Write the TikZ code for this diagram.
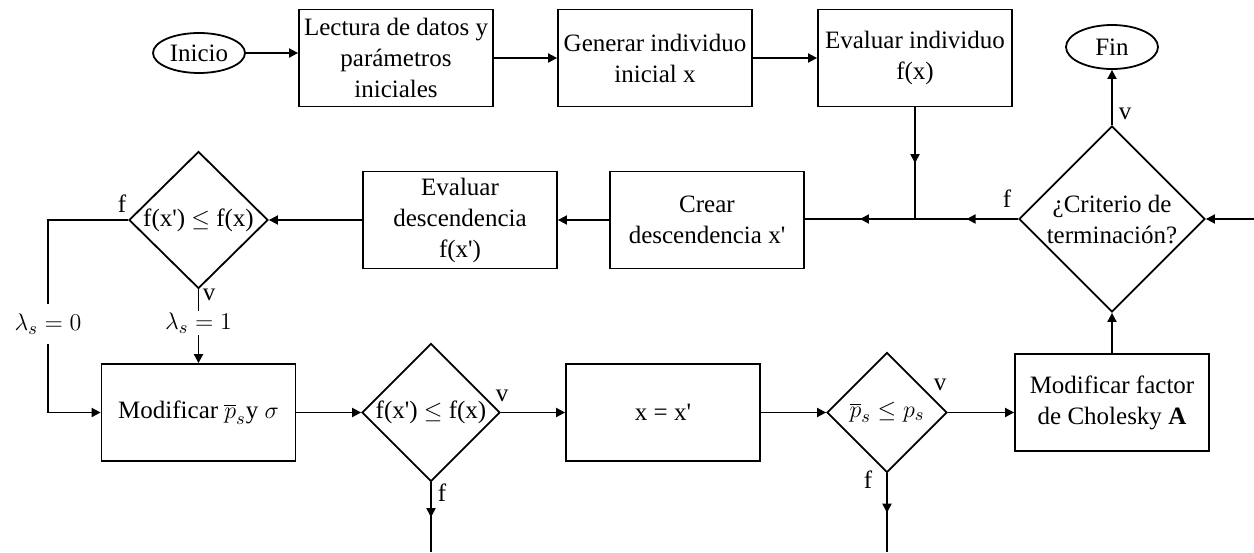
\documentclass[tikz,border=0pt]{standalone}
\usepackage{fontspec}
\setmainfont{Liberation Serif}
\usetikzlibrary{shapes.geometric,arrows.meta,decorations.markings}
\begin{document}
\begin{tikzpicture}[x=0.5pt,y=-0.5pt,
  font=\fontsize{12.5}{15.5}\selectfont,
  line width=0.9pt,
  proc/.style={draw,rectangle,minimum width=97pt,minimum height=48.5pt,align=center,inner sep=2pt},
  term/.style={draw,ellipse,minimum width=46pt,minimum height=20pt,inner sep=0pt},
  decision/.style={draw,diamond,aspect=1,inner sep=0pt,align=center},
  lbl/.style={inner sep=0pt},
  tip/.style={-{Triangle[length=4.5pt,width=4.5pt]}},
  midarrow/.style={decoration={markings,mark=at position 0.5 with {\arrow{Triangle[length=4.5pt,width=4.5pt]}}},postaction={decorate}},
]
\useasboundingbox (0,0) rectangle (1254,552);

% top row
\node[term] (inicio) at (199,53) {Inicio};
\node[proc] (lect) at (396,58) {Lectura de datos y\\parámetros\\iniciales};
\node[proc] (gen) at (655,58) {Generar individuo\\inicial x};
\node[proc] (evi) at (915,58) {Evaluar individuo\\f(x)};
\node[term, minimum height=22pt] (fin) at (1112,47) {Fin};

% middle row
\node[decision, minimum width=93pt, minimum height=93pt] (crit) at (1112,219) {¿Criterio de\\terminación?};
\node[proc] (crear) at (707,220) {Crear\\descendencia x\textquotesingle};
\node[proc] (evd) at (460,220) {Evaluar\\descendencia\\f(x\textquotesingle)};
\node[decision, minimum width=69.5pt, minimum height=68.5pt] (d1) at (198.5,220) {f(x\textquotesingle) $\leq$ f(x)};

% bottom row
\node[proc] (mod) at (198.5,412.5) {Modificar $\overline{p}_s$y $\sigma$};
\node[decision, minimum width=69pt, minimum height=69pt] (d2) at (431,412.5) {f(x\textquotesingle) $\leq$ f(x)};
\node[proc] (asig) at (663,412.5) {x = x\textquotesingle};
\node[decision, minimum width=60pt, minimum height=60pt] (d3) at (887,412.5) {$\overline{p}_s \leq p_s$};
\node[proc] (chol) at (1112,402.5) {Modificar factor\\de Cholesky \textbf{A}};

% branch labels
\node[lbl] (f1) at (122,204) {f};
\node[lbl] (v1) at (209,295) {v};
\node[inner xsep=1pt, inner ysep=4.5pt] (lam0) at (48,324) {$\lambda_s = 0$};
\node[inner xsep=1pt, inner ysep=0.5pt] (lam1) at (198.5,323) {$\lambda_s = 1$};
\node[lbl] (v2) at (502,396) {v};
\node[lbl] (f2) at (442,493) {f};
\node[lbl] (v3) at (940,385) {v};
\node[lbl] (f3) at (868,480) {f};
\node[lbl] (vc) at (1125,114) {v};
\node[lbl] (fc) at (1007,199) {f};

% connectors
\draw[tip] (inicio.east) -- (lect.west |- inicio.east);
\draw[tip] (lect) -- (gen);
\draw[tip] (gen) -- (evi);
\coordinate (j) at (evi.south |- crit.west);
\draw[midarrow] (evi.south) -- (j);
\draw[midarrow] (crit.west) -- (j);
\draw[midarrow] (j) -- (crear.east |- j);
\draw[tip] (crear) -- (evd);
\draw[tip] (evd) -- (d1);
\draw (d1.west) -- (d1.west -| lam0) -- (lam0.north);
\draw[tip] (lam0.south) |- (mod.west);
\draw (d1.south) -- (lam1.north);
\draw[tip] (lam1.south) -- (mod.north);
\draw[tip] (mod) -- (d2);
\draw[tip] (d2) -- (asig);
\draw[tip] (asig) -- (d3);
\draw[tip] (d3.east) -- (chol.west |- d3.east);
\draw[tip] (chol) -- (crit);
\draw[tip] (crit) -- (fin);
\coordinate (inR) at (1254,219);
\draw[tip] (inR) -- (crit.east);
\coordinate (out2) at (431,552);
\draw[midarrow] (d2.south) -- (out2);
\coordinate (out3) at (887,552);
\draw[midarrow] (d3.south) -- (out3);
\end{tikzpicture}
\end{document}
